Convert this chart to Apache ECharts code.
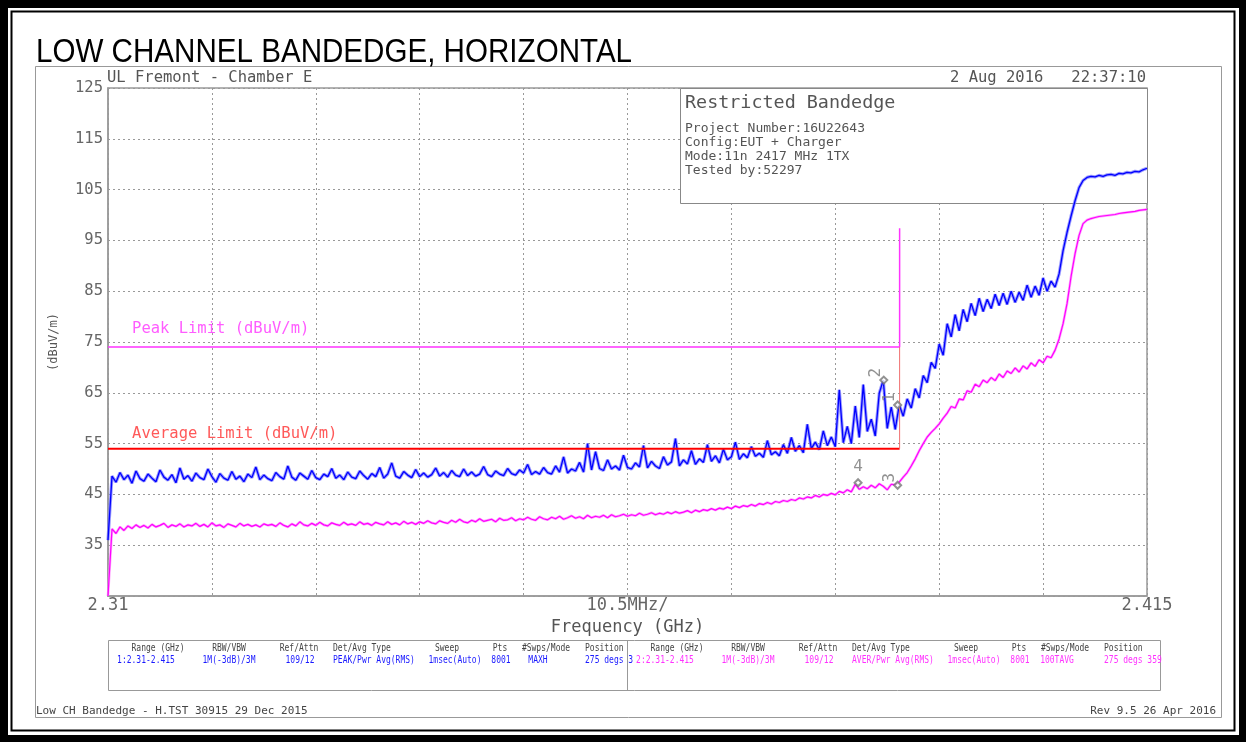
<!DOCTYPE html>
<html>
<head>
<meta charset="utf-8">
<script src="https://cdn.jsdelivr.net/npm/echarts@6/dist/echarts.min.js"></script>
<style>
html, body { margin: 0; padding: 0; background: #fff; }
#chart { width: 1246px; height: 742px; }
</style>
</head>
<body>
<div id="chart"></div>
<script>
// sweep range (GHz), trace points are evenly spaced over it
const F_START = 2.31
const F_STOP = 2.415

const xLabelValues = [2.31, 2.3625, 2.415]
const xLabelTexts = ['2.31', '10.5MHz/', '2.415']

// trace 1: peak / max hold (dBuV/m)
const peakTrace = [
  36,
  48.6, 47.4, 49.3, 47.9, 48.8, 47.2, 49.6, 48.1, 47.6, 49.0,
  48.2, 47.5, 49.8, 48.4, 47.8, 48.9, 47.3, 50.2, 48.0, 48.7,
  47.6, 49.2, 48.3, 47.9, 50.0, 48.5, 47.4, 49.1, 48.2, 47.8,
  49.5, 48.0, 48.6, 47.5, 49.0, 48.3, 50.4, 47.9, 48.8, 48.1,
  47.7, 49.3, 48.5, 48.0, 50.6, 48.4, 47.8, 49.2, 48.6, 48.0,
  49.7, 48.3, 47.9, 49.0, 48.5, 50.1, 48.2, 48.8, 47.9, 49.4,
  48.4, 48.1, 49.6, 48.7, 48.0, 49.1, 48.5, 50.3, 48.2, 49.0,
  51.2, 48.6, 48.2, 49.5, 48.8, 48.3, 49.9, 48.5, 49.2, 48.4,
  48.9, 50.2, 48.6, 49.3, 48.4, 49.7, 48.8, 48.5, 50.0, 48.7,
  49.4, 48.6, 49.0, 50.5, 48.9, 48.5, 49.6, 49.0, 48.7, 50.1,
  49.1, 48.8, 49.8, 49.2, 50.9, 48.9, 49.5, 49.0, 50.3, 49.3,
  49.0, 50.6, 49.4, 52.4, 49.2, 50.0, 49.6, 51.3, 49.4, 55.0,
  49.8, 53.4, 50.1, 49.7, 51.8, 50.0, 50.6, 49.8, 52.7, 50.3,
  50.0, 51.2, 50.4, 54.6, 50.2, 51.5, 50.6, 50.1, 52.4, 50.8,
  51.4, 56.0, 50.6, 51.8, 51.0, 53.6, 50.9, 52.0, 51.3, 54.8,
  51.5, 52.6, 51.2, 53.9, 51.8, 52.4, 55.3, 51.9, 53.0, 52.2,
  54.4, 52.5, 53.1, 52.3, 55.6, 52.8, 53.4, 52.6, 54.8, 53.1,
  56.2, 53.5, 54.6, 53.2, 58.8, 54.0, 55.3, 53.8, 57.5, 54.6,
  56.3, 54.4, 65.6, 55.2, 58.4, 55.0, 62.4, 56.2, 66.6, 57.4,
  59.8, 56.5, 64.9, 67.5, 58.0, 62.2, 57.8, 62.6, 60.4, 63.8,
  62.0, 65.8, 64.0, 68.4, 67.0, 71.0, 69.8, 74.6, 72.4, 78.6,
  76.0, 80.4, 77.2, 81.4, 79.0, 82.6, 80.2, 83.6, 81.0, 83.4,
  81.6, 84.4, 82.2, 84.6, 82.4, 85.0, 82.8, 84.8, 83.2, 86.2,
  83.8, 86.0, 84.2, 87.6, 85.0, 87.0, 85.8, 88.4, 93.0, 96.6,
  99.8, 102.8, 105.4, 106.8, 107.4, 107.6, 107.5, 107.8, 107.6, 107.9,
  108.0, 107.8, 108.2, 108.1, 108.4, 108.3, 108.6, 108.5, 108.9, 109.2
]

// trace 2: average (dBuV/m)
const avgTrace = [
  25,
  38.2, 37.3, 38.6, 37.9, 38.8, 38.3, 39.0, 38.5, 38.9, 38.4,
  39.1, 38.6, 38.9, 39.3, 38.5, 39.0, 38.7, 39.2, 38.6, 39.0,
  38.8, 39.3, 38.7, 39.1, 38.6, 39.4, 38.8, 39.0, 38.5, 39.2,
  38.9, 38.6, 39.3, 38.8, 39.1, 38.7, 39.0, 38.6, 39.2, 38.9,
  39.1, 38.7, 39.4, 38.9, 38.6, 39.2, 38.8, 39.6, 39.0, 38.8,
  39.3, 38.9, 39.5, 39.0, 38.8, 39.4, 39.1, 38.9, 39.5, 39.0,
  39.2, 38.9, 39.6, 39.1, 39.3, 38.9, 39.5, 39.2, 39.0, 39.6,
  39.1, 39.4, 39.0, 39.7, 39.2, 39.5, 39.1, 39.6, 39.3, 39.8,
  39.4, 39.2, 39.8, 39.5, 39.3, 39.9, 39.5, 40.1, 39.6, 39.4,
  39.9, 39.6, 40.2, 39.7, 39.9, 40.1, 39.6, 40.3, 39.9, 40.0,
  40.4, 39.8, 40.2, 40.0, 40.5, 40.1, 39.9, 40.6, 40.2, 40.0,
  40.5, 40.2, 40.7, 40.1, 40.4, 40.8, 40.3, 40.6, 40.2, 40.9,
  40.4, 40.7, 40.5, 40.9, 40.4, 41.0, 40.6, 40.8, 41.1, 40.7,
  41.0, 40.8, 41.3, 40.9, 41.1, 41.4, 41.0, 41.3, 41.1, 41.5,
  41.2, 41.6, 41.3, 41.5, 41.8, 41.4, 41.9, 41.6, 42.0, 41.8,
  42.2, 41.9, 42.3, 42.1, 42.5, 42.2, 42.7, 42.4, 42.8, 42.6,
  43.0, 42.7, 43.2, 43.0, 43.4, 43.1, 43.6, 43.4, 43.8, 43.6,
  44.0, 43.8, 44.3, 44.1, 44.5, 44.3, 44.8, 44.5, 45.0, 44.8,
  45.2, 44.9, 45.6, 45.3, 45.9, 45.5, 47.0, 46.0, 46.5, 46.1,
  46.8, 46.3, 47.1, 46.6, 45.9, 47.0, 46.9, 47.4, 48.4, 49.3,
  50.6, 52.0, 53.6, 55.0, 56.3, 57.2, 58.0, 58.9, 60.0, 61.0,
  62.3, 62.0, 63.8, 63.6, 65.4, 65.1, 66.7, 66.2, 67.5, 67.0,
  68.0, 67.4, 68.7, 68.0, 69.3, 68.8, 69.9, 69.1, 70.3, 69.7,
  70.9, 70.2, 71.5, 70.9, 72.2, 71.9, 73.4, 75.6, 78.6, 82.6,
  87.9, 92.4, 96.0, 98.3, 99.0, 99.3, 99.5, 99.7, 99.8, 99.9,
  100.0, 100.1, 100.3, 100.4, 100.5, 100.6, 100.7, 100.9, 101.0, 101.1
]

// limit lines [GHz, dBuV/m]
const peakLimit = [[2.31, 74], [2.39, 74], [2.39, 97.4]]
const avgLimit = [[2.31, 54], [2.39, 54]]
const avgLimitEdge = [[2.39, 54], [2.39, 74]]

// markers [GHz, dBuV/m]
const markerNames = ['1', '2', '3', '4']
const markerValues = [[2.3898, 62.6], [2.3884, 67.5], [2.3898, 46.8], [2.3858, 47.3]]
const markerRotate = [90, 90, 90, 0]

const limitLabelNames = ['Peak Limit (dBuV/m)', 'Average Limit (dBuV/m)']
const limitLabelValues = [[2.31243, 77.6], [2.31243, 56.9]]
const limitLabelColors = ['#ff33ff', '#ff3030']

// settings table
const tableHeaders = ['Range (GHz)', 'RBW/VBW', 'Ref/Attn', 'Det/Avg Type', 'Sweep', 'Pts', '#Swps/Mode', 'Position']
const trace1Settings = ['1:2.31-2.415', '1M(-3dB)/3M', '109/12', 'PEAK/Pwr Avg(RMS)', '1msec(Auto)', '8001', 'MAXH', '275 degs 3']
const trace2Settings = ['2:2.31-2.415', '1M(-3dB)/3M', '109/12', 'AVER/Pwr Avg(RMS)', '1msec(Auto)', '8001', '100TAVG', '275 degs 359']

const infoLines = ['Project Number:16U22643', 'Config:EUT + Charger', 'Mode:11n 2417 MHz 1TX', 'Tested by:52297']

const mono = '"DejaVu Sans Mono", monospace'

const step = (F_STOP - F_START) / (peakTrace.length - 1)
const peakData = peakTrace.map((v, i) => [F_START + i * step, v])
const avgData = avgTrace.map((v, i) => [F_START + i * step, v])

function txt(x, y, s, size, color, align, extra) {
  return Object.assign({
    type: 'text', x: x, y: y, z: 100,
    style: { text: s, fill: color, font: size + 'px ' + mono, align: align || 'left', verticalAlign: 'middle' }
  }, extra || {})
}

// table column layout, relative to the left edge of each half
const headCols = [[50, 'center'], [121, 'center'], [191, 'center'], [225, 'left'], [339, 'center'], [392, 'center'], [438, 'center'], [477, 'left']]
const valCols = [[38, 'center'], [121, 'center'], [192, 'center'], [225, 'left'], [347, 'center'], [393, 'center'], [430, 'center'], [477, 'left']]

const graphics = [
  { type: 'rect', z: 100, shape: { x: 4, y: 4, width: 1239, height: 735 }, style: { fill: 'none', stroke: '#000', lineWidth: 8 } },
  { type: 'rect', z: 100, shape: { x: 11.5, y: 11.5, width: 1223, height: 719 }, style: { fill: 'none', stroke: '#000', lineWidth: 2 } },
  { type: 'rect', z: 100, shape: { x: 35.5, y: 66.5, width: 1186, height: 651 }, style: { fill: 'none', stroke: '#999', lineWidth: 1 } },
  { type: 'text', x: 36, y: 53, z: 100, scaleX: 0.87,
    style: { text: 'LOW CHANNEL BANDEDGE, HORIZONTAL', fill: '#000', font: '34px "Liberation Sans", Arial, sans-serif', align: 'left', verticalAlign: 'middle' } },
  txt(107, 78, 'UL Fremont - Chamber E', 15.5, '#555'),
  txt(1146, 78, '2 Aug 2016   22:37:10', 15.5, '#555', 'right'),
  // info box, under the traces
  { type: 'rect', z: 1, shape: { x: 680.5, y: 88.5, width: 467, height: 115 }, style: { fill: '#fff', stroke: '#888', lineWidth: 1 } },
  txt(685, 103, 'Restricted Bandedge', 18.4, '#555'),
  // settings table
  { type: 'rect', z: 100, shape: { x: 108.5, y: 640.5, width: 1052, height: 50 }, style: { fill: 'none', stroke: '#999', lineWidth: 1 } },
  { type: 'line', z: 100, shape: { x1: 627.5, y1: 640, x2: 627.5, y2: 691 }, style: { stroke: '#999', lineWidth: 1 } },
  txt(36, 711, 'Low CH Bandedge - H.TST 30915 29 Dec 2015', 11, '#444'),
  txt(1216, 711, 'Rev 9.5 26 Apr 2016', 11, '#444', 'right')
]
infoLines.forEach((s, i) => graphics.push(txt(685, 129 + i * 14, s, 13, '#555')))
;[[108, trace1Settings, '#1a1aff'], [627, trace2Settings, '#ff33ff']].forEach(([x0, vals, col]) => {
  tableHeaders.forEach((h, i) => graphics.push(txt(x0 + headCols[i][0], 648, h, 10, '#444', headCols[i][1], { scaleX: 0.8 })))
  vals.forEach((v, i) => graphics.push(txt(x0 + valCols[i][0], 660, v, 10, col, valCols[i][1], { scaleX: 0.8 })))
})

const chart = echarts.init(document.getElementById('chart'))
chart.setOption({
  animation: false,
  backgroundColor: '#fff',
  grid: { left: 108, top: 88, width: 1039, height: 508, show: true, borderColor: '#999', borderWidth: 1.5, backgroundColor: 'transparent' },
  xAxis: {
    type: 'value', min: F_START, max: F_STOP, interval: 0.0105,
    axisLine: { show: true, lineStyle: { color: '#999', width: 1.5 } },
    axisTick: { show: false },
    splitLine: { show: true, lineStyle: { color: '#999', type: [2, 3], width: 1 } },
    axisLabel: {
      color: '#666', fontFamily: mono, fontSize: 17, margin: 1, showMinLabel: true, showMaxLabel: true, hideOverlap: false,
      formatter: v => {
        const k = xLabelValues.findIndex(t => Math.abs(t - v) < 1e-6)
        return k < 0 ? '' : xLabelTexts[k]
      }
    },
    name: 'Frequency (GHz)', nameLocation: 'middle', nameGap: 23,
    nameTextStyle: { color: '#555', fontFamily: mono, fontSize: 17 }
  },
  yAxis: {
    type: 'value', min: 25, max: 125, interval: 10,
    axisLine: { show: true, lineStyle: { color: '#999', width: 1.5 } },
    axisTick: { show: false },
    splitLine: { show: true, lineStyle: { color: '#999', type: [2, 3], width: 1 } },
    axisLabel: { color: '#666', fontFamily: mono, fontSize: 15.5, margin: 5, formatter: v => v === 25 ? '' : String(v) },
    name: '(dBuV/m)', nameLocation: 'middle', nameRotate: 90, nameGap: 48,
    nameTextStyle: { color: '#555', fontFamily: mono, fontSize: 12 }
  },
  graphic: graphics,
  series: [
    // soft fringe under each trace, like the analyzer's anti-aliased band
    { name: 'Peak band', type: 'line', data: peakData, symbol: 'none', z: 2, silent: true, lineStyle: { color: '#7a7aff', width: 3.2, opacity: 0.75 } },
    { name: 'Average band', type: 'line', data: avgData, symbol: 'none', z: 2, silent: true, lineStyle: { color: '#ff88ff', width: 2.6, opacity: 0.75 } },
    { name: 'Peak', type: 'line', data: peakData, symbol: 'none', z: 3, lineStyle: { color: '#0000ff', width: 1.3 } },
    { name: 'Average', type: 'line', data: avgData, symbol: 'none', z: 4, lineStyle: { color: '#ff00ff', width: 1.2 } },
    { name: 'Peak Limit', type: 'line', data: peakLimit, symbol: 'none', z: 5, lineStyle: { color: '#ff33ff', width: 1.5 } },
    { name: 'Average Limit', type: 'line', data: avgLimit, symbol: 'none', z: 5, lineStyle: { color: '#ff0000', width: 2 } },
    { name: 'Average Limit edge', type: 'line', data: avgLimitEdge, symbol: 'none', z: 5, lineStyle: { color: '#f07070', width: 1 } },
    {
      name: 'Limit labels', type: 'scatter', symbolSize: 0, z: 6,
      data: limitLabelNames.map((n, i) => ({ name: n, value: limitLabelValues[i], label: { color: limitLabelColors[i] } })),
      label: { show: true, position: 'right', distance: 0, formatter: '{b}', fontFamily: mono, fontSize: 15.5 }
    },
    {
      name: 'Markers', type: 'scatter', symbol: 'emptyDiamond', symbolSize: 7, z: 7,
      itemStyle: { color: '#777', borderColor: '#777', borderWidth: 1 },
      data: markerNames.map((n, i) => ({ name: n, value: markerValues[i], label: { rotate: markerRotate[i] } })),
      label: { show: true, position: 'top', distance: 3, formatter: '{b}', color: '#777', fontFamily: mono, fontSize: 16 }
    }
  ]
})
</script>
</body>
</html>
